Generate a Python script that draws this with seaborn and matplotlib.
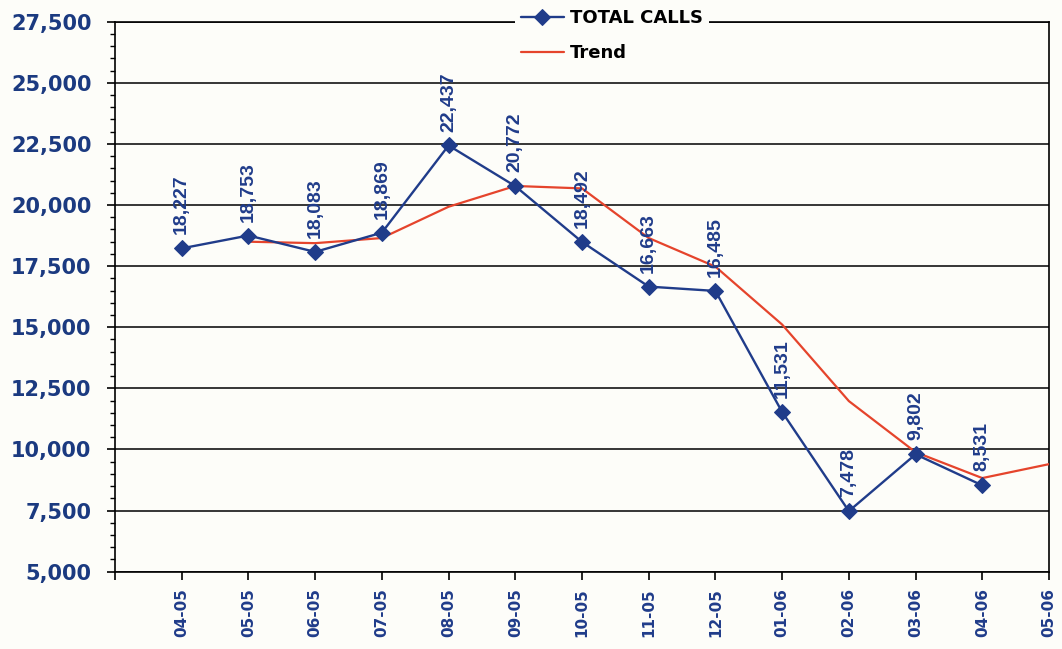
import numpy as np
import pandas as pd
import matplotlib
matplotlib.use('Agg')
import matplotlib.pyplot as plt
from matplotlib.ticker import MultipleLocator, FuncFormatter
import seaborn as sns

# 数据
months = ['04-05', '05-05', '06-05', '07-05', '08-05', '09-05', '10-05',
          '11-05', '12-05', '01-06', '02-06', '03-06', '04-06', '05-06']
total_calls = [18227, 18753, 18083, 18869, 22437, 20772, 18492,
               16663, 16485, 11531, 7478, 9802, 8531]
trend = [18500, 18440, 18650, 19930, 20780, 20680, 18650,
         17480, 15110, 11980, 9890, 8830, 9400]

navy = '#203c8a'
red = '#e5442c'
paper = '#fdfdf9'

sns.set_style('white')
plt.rcParams['font.family'] = ['DejaVu Sans']

df_calls = pd.DataFrame({'pos': np.arange(len(total_calls)), 'calls': total_calls})
df_trend = pd.DataFrame({'pos': np.arange(1, 1 + len(trend)), 'trend': trend})

fig = plt.figure(figsize=(10.62, 6.49), dpi=100, facecolor=paper)
ax = fig.add_axes([115 / 1062, 1 - 571.7 / 649, 934 / 1062, 550 / 649])
ax.set_facecolor(paper)

sns.lineplot(data=df_calls, x='pos', y='calls', color=navy, linewidth=1.7,
             marker='D', markersize=8, markeredgecolor=navy,
             ax=ax, label='TOTAL CALLS', zorder=4)
sns.lineplot(data=df_trend, x='pos', y='trend', color=red, linewidth=1.6,
             ax=ax, label='Trend', zorder=3)

# 数据标签
for x, v in zip(df_calls['pos'], df_calls['calls']):
    ax.annotate(f'{v:,}', (x, v), xytext=(0, 10), textcoords='offset points',
                ha='center', va='bottom', rotation=90, color=navy,
                fontsize=14, fontweight='bold', family='Liberation Sans',
                zorder=5)

ax.set_xlim(-1, 13)
ax.set_ylim(5000, 27500)
ax.set_xticks(np.arange(-1, 14))
ax.set_xticklabels([''] + months, rotation=90, fontsize=11,
                   fontweight='bold', color=navy)
ax.yaxis.set_major_locator(MultipleLocator(2500))
ax.yaxis.set_minor_locator(MultipleLocator(500))
ax.yaxis.set_major_formatter(FuncFormatter(lambda v, p: f'{int(v):,}'))
for lab in ax.get_yticklabels():
    lab.set_fontsize(15)
    lab.set_fontweight('bold')
    lab.set_color('#1b3a80')

ax.tick_params(axis='y', which='major', direction='out', length=6, width=1.2,
               color='black', left=True, pad=11)
ax.tick_params(axis='y', which='minor', direction='out', length=3.5, width=1.0,
               color='black', left=True)
ax.tick_params(axis='x', which='major', direction='out', length=6, width=1.2,
               color='black', bottom=True, pad=6)
ax.set_xlabel('')
ax.set_ylabel('')

ax.grid(axis='y', which='major', color='black', linewidth=1.1)
ax.set_axisbelow(True)
for s in ax.spines.values():
    s.set_color('black')
    s.set_linewidth(1.2)

leg = ax.legend(loc='center', bbox_to_anchor=(0.532, 0.975), frameon=True,
                facecolor=paper, edgecolor='none', framealpha=1,
                fancybox=False, prop={'weight': 'bold', 'size': 13},
                handlelength=2.4, handletextpad=0.35, labelspacing=0.95,
                borderpad=0.3)
for t in leg.get_texts():
    t.set_color('black')
leg.set_zorder(10)

fig.savefig('out.png', dpi=100, facecolor=paper)
